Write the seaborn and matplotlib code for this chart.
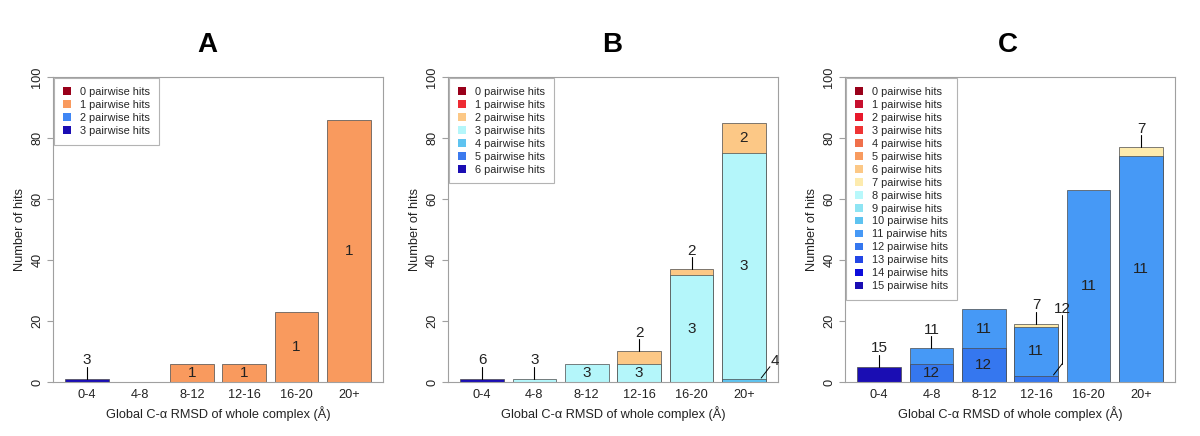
import matplotlib

matplotlib.use("Agg")
import matplotlib.pyplot as plt
import pandas as pd
import seaborn as sns
from matplotlib.patches import Patch

BINS = ["0-4", "4-8", "8-12", "12-16", "16-20", "20+"]

# panel A: one row per stacked segment
A_BIN = ["0-4", "8-12", "12-16", "16-20", "20+"]
A_HITS = [3, 1, 1, 1, 1]
A_COUNT = [1, 6, 6, 23, 86]
A_COLORS = ["#99001A", "#F99A5E", "#3F86F5", "#1A0DB3"]

# panel B
B_BIN = ["0-4", "4-8", "8-12", "12-16", "12-16", "16-20", "16-20", "20+", "20+", "20+"]
B_HITS = [6, 3, 3, 3, 2, 3, 2, 4, 3, 2]
B_COUNT = [1, 1, 6, 6, 4, 35, 2, 1, 74, 10]
B_COLORS = ["#99001A", "#EE2B33", "#FCC886", "#B4F6FA", "#5EC3F0", "#3C7AEE", "#1A0DB3"]

# panel C
C_BIN = ["0-4", "4-8", "4-8", "8-12", "8-12", "12-16", "12-16", "12-16",
         "16-20", "20+", "20+"]
C_HITS = [15, 12, 11, 12, 11, 12, 11, 7, 11, 11, 7]
C_COUNT = [5, 6, 5, 11, 13, 2, 16, 1, 63, 74, 3]
C_COLORS = ["#99001A", "#C70F2E", "#E8192C", "#EF3434", "#F0704B", "#F89B5F",
            "#FCC886", "#FDEBAE", "#B8F8FB", "#8EE4F3", "#5EC3F0", "#4699F6",
            "#3577EF", "#2346E6", "#0D0DDC", "#1A0DB3"]

BAR_W = 1 / 1.2
GRAY = "#A0A0A0"
TXT = "#222222"

sns.set_style("white")
plt.rcParams["font.family"] = ["Liberation Sans", "DejaVu Sans"]


def label(n):
    return f"{n} pairwise hits"


def draw_panel(ax, bins, hits, counts, colors):
    df = pd.DataFrame({"bin": bins, "hits": hits, "count": counts})
    df["pos"] = df["bin"].map(BINS.index)
    # higher hit counts sit at the bottom of each stack
    df = df.sort_values(["pos", "hits"], ascending=[True, False])
    df["top"] = df.groupby("bin")["count"].cumsum()
    df["base"] = df["top"] - df["count"]
    df["label"] = df["hits"].map(label)
    totals = df.groupby("bin")["count"].sum()

    levels = sorted(df["hits"].unique())  # tallest cumulative drawn first
    palette = {label(h): colors[h] for h in levels}
    sns.barplot(
        data=df, x="bin", y="top", hue="label",
        hue_order=[label(h) for h in levels], order=BINS,
        palette=palette, dodge=False, width=BAR_W, saturation=1,
        errorbar=None, edgecolor="#4a4a4a", linewidth=0.5,
        legend=False, ax=ax,
    )

    for _, r in df.iterrows():
        cx = r["pos"]
        total = totals[r["bin"]]
        if r["count"] > 5:
            ax.text(cx, r["base"] + r["count"] / 2, str(r["hits"]),
                    ha="center", va="center", fontsize=11, color=TXT)
        elif r["top"] == total:
            ax.plot([cx, cx], [r["top"], r["top"] + 4], color="black", lw=0.8)
            ax.text(cx, r["top"] + 3.8, str(r["hits"]),
                    ha="center", va="bottom", fontsize=11, color=TXT)
        else:
            right = cx + BAR_W / 2
            x0, y0 = cx + 0.33, r["top"] + 0.3
            x1, y1 = right + 0.08, r["top"] + 4
            ax.plot([x0, x1], [y0, y1], color="black", lw=0.7)
            if total > 40:
                ax.text(x1 + 0.1, y1 - 0.5, str(r["hits"]),
                        ha="center", va="bottom", fontsize=11, color=TXT)
            else:
                ax.plot([x1, x1], [y1, total + 3], color="black", lw=0.7)
                ax.text(x1, total + 2.6, str(r["hits"]),
                        ha="center", va="bottom", fontsize=11, color=TXT)

    handles = [Patch(facecolor=c, edgecolor="none", label=label(i))
               for i, c in enumerate(colors)]
    leg = ax.legend(handles=handles, loc="upper left", borderaxespad=0.1,
                    fontsize=7.9, frameon=True, fancybox=False,
                    handlelength=0.7, handleheight=0.7, labelspacing=0.27,
                    borderpad=0.8, handletextpad=0.9)
    leg.get_frame().set_edgecolor(GRAY)
    leg.get_frame().set_linewidth(0.8)

    ax.set_xlim(-0.65, 5.65)
    ax.set_ylim(0, 100)
    ax.set_yticks([0, 20, 40, 60, 80, 100])
    ax.set_xlabel("Global C-α RMSD of whole complex (Å)", fontsize=9.2, color=TXT,
                  labelpad=4)
    ax.set_ylabel("Number of hits", fontsize=9.2, color=TXT, labelpad=4)
    ax.tick_params(axis="x", length=0, pad=5, labelsize=9.2, labelcolor=TXT)
    ax.tick_params(axis="y", left=True, length=4, width=0.8, color=GRAY,
                   pad=3, labelsize=9.2, labelcolor=TXT, labelrotation=90)
    for t in ax.get_yticklabels():
        t.set_va("center")
    for s in ax.spines.values():
        s.set_visible(True)
        s.set_color(GRAY)
        s.set_linewidth(0.8)


fig = plt.figure(figsize=(12, 4.36), dpi=100)
panels = [
    (0.0442, A_BIN, A_HITS, A_COUNT, A_COLORS, "A", 0.1725),
    (0.3733, B_BIN, B_HITS, B_COUNT, B_COLORS, "B", 0.51),
    (0.7042, C_BIN, C_HITS, C_COUNT, C_COLORS, "C", 0.84),
]
for left, bins, hits, counts, colors, title, tx in panels:
    ax = fig.add_axes([left, 0.1239, 0.275, 0.6995])
    draw_panel(ax, bins, hits, counts, colors)
    fig.text(tx, 0.897, title, ha="center", va="center", fontsize=20,
             fontweight="bold", color="black")

fig.savefig("out.png", dpi=100)
